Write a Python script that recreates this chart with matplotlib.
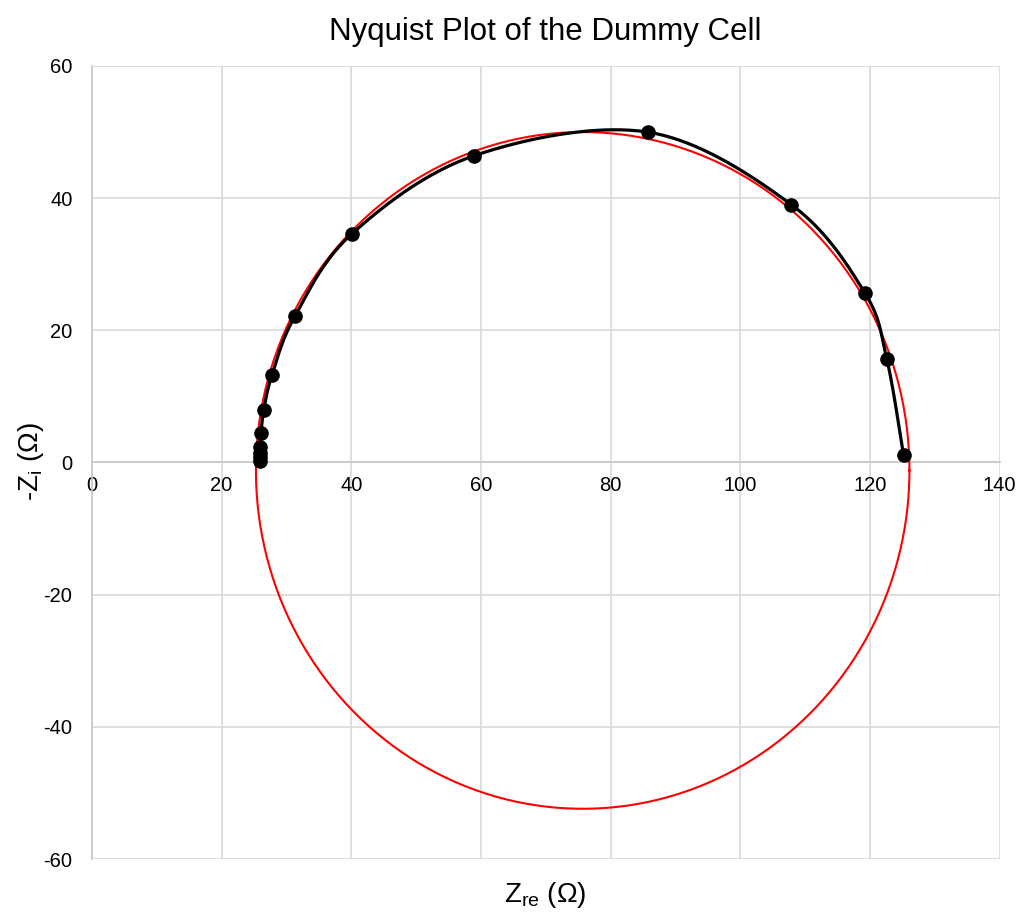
import numpy as np
import matplotlib.pyplot as plt

plt.rcParams['font.family'] = ['Liberation Sans', 'DejaVu Sans']
plt.rcParams['mathtext.fontset'] = 'custom'
plt.rcParams['mathtext.rm'] = 'Liberation Sans'
plt.rcParams['mathtext.it'] = 'Liberation Sans:italic'
plt.rcParams['axes.unicode_minus'] = False

# measured impedance of the dummy cell
z_re = [25.9, 25.9, 25.9, 25.9, 26.1, 26.5, 27.8, 31.3, 40.1, 58.9, 85.7, 107.9, 119.2, 122.6, 125.2]
z_im = [0.3, 0.8, 1.4, 2.4, 4.5, 7.9, 13.3, 22.1, 34.6, 46.4, 50.0, 39.0, 25.7, 15.7, 1.06]

# fitted semicircle
fit_xc, fit_yc = 75.7, -1.2
fit_rx, fit_ry = 50.4, 51.2


def smooth_line(xs, ys, n=40):
    # Catmull-Rom style cubic bezier through the points (like a spreadsheet "smoothed line")
    p = np.column_stack([xs, ys]).astype(float)
    p = np.vstack([p[0], p, p[-1]])
    out = []
    t = np.linspace(0, 1, n)[:, None]
    for i in range(1, len(p) - 2):
        p0, p1, p2, p3 = p[i - 1], p[i], p[i + 1], p[i + 2]
        c1 = p1 + (p2 - p0) / 6
        c2 = p2 - (p3 - p1) / 6
        seg = ((1 - t) ** 3) * p1 + 3 * ((1 - t) ** 2) * t * c1 + 3 * (1 - t) * t ** 2 * c2 + t ** 3 * p2
        out.append(seg)
    out = np.vstack(out)
    return out[:, 0], out[:, 1]


fig = plt.figure(figsize=(10.21, 9.15), dpi=100)
ax = fig.add_axes([0.090, 0.0612, 0.889, 0.8667])

ang = np.linspace(0, 2 * np.pi, 400)
ax.plot(fit_xc + fit_rx * np.cos(ang), fit_yc + fit_ry * np.sin(ang), color='#ff0000', lw=1.5, zorder=3)

sx, sy = smooth_line(z_re, z_im)
ax.plot(sx, sy, color='black', lw=2.3, zorder=4)
ax.plot(z_re, z_im, 'o', color='black', ms=9.5, zorder=5)

ax.set_xlim(0, 140)
ax.set_ylim(-60, 60)
ax.set_xticks(np.arange(0, 141, 20))
ax.set_yticks(np.arange(-60, 61, 20))
ax.grid(True, color='#d9d9d9', lw=1.2, zorder=0)
ax.set_axisbelow(True)

for s in ['top', 'right']:
    ax.spines[s].set_visible(False)
ax.spines['bottom'].set_position(('data', 0))
ax.spines['bottom'].set_color('#c8c8c8')
ax.spines['left'].set_color('#c8c8c8')
ax.spines['bottom'].set_linewidth(1.2)
ax.spines['left'].set_linewidth(1.2)
ax.tick_params(axis='both', length=0, labelsize=14.5)
ax.tick_params(axis='x', pad=10)
ax.tick_params(axis='y', pad=14)

ax.set_title('Nyquist Plot of the Dummy Cell', fontsize=22.5, pad=19)
fig.text(0.534, 0.022, r'Z$_\mathregular{re}$ (Ω)', fontsize=20, ha='center', va='center')
fig.text(0.030, 0.495, r'-Z$_\mathregular{i}$ (Ω)', fontsize=20, ha='center', va='center', rotation=90)

fig.savefig('out.png', dpi=100, facecolor='white')
